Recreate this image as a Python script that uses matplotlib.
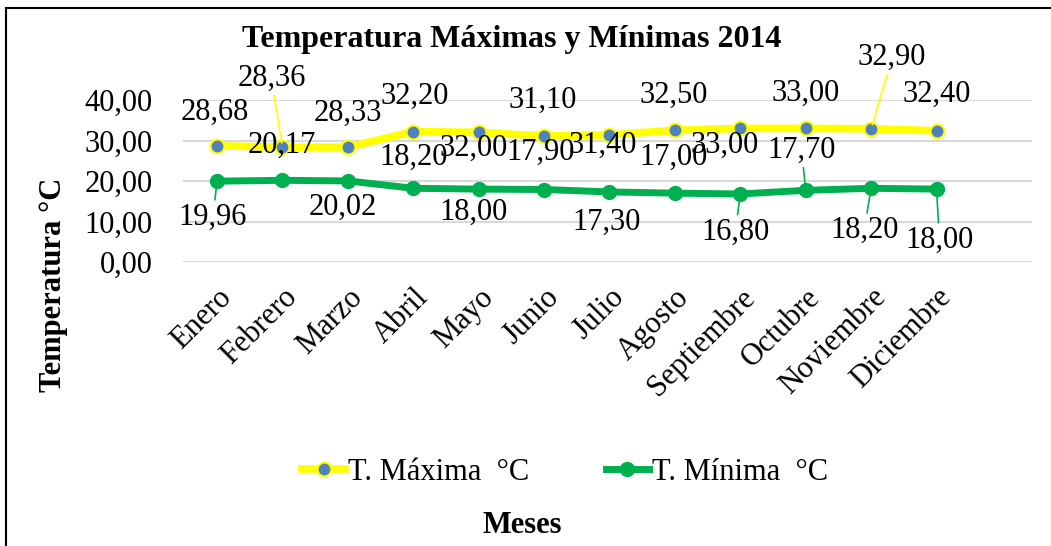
import matplotlib
matplotlib.use("Agg")
import matplotlib.pyplot as plt
from matplotlib.lines import Line2D
from matplotlib.ticker import FuncFormatter, MultipleLocator

plt.rcParams["font.family"] = ["Liberation Serif", "DejaVu Serif"]

# ---------------------------------------------------------------------------
# Data
# ---------------------------------------------------------------------------
meses = ["Enero", "Febrero", "Marzo", "Abril", "Mayo", "Junio", "Julio",
         "Agosto", "Septiembre", "Octubre", "Noviembre", "Diciembre"]
t_maxima = [28.68, 28.36, 28.33, 32.20, 32.00, 31.10, 31.40, 32.50,
            33.00, 33.00, 32.90, 32.40]
t_minima = [19.96, 20.17, 20.02, 18.20, 18.00, 17.90, 17.30, 17.00,
            16.80, 17.70, 18.20, 18.00]

# label offsets (pixels) and whether a leader line is drawn
max_offsets = [(-2, 34), (-11, 69), (0, 34), (1, 35), (-5, -16), (-1, 36),
               (-7, -10), (-1, 35), (-16, -17), (0, 35), (21, 71), (0, 36)]
max_leader = [False, True, False, False, False, False,
              False, False, False, False, True, False]
min_offsets = [(-4, -36), (-1, 35), (-5, -26), (0, 31), (-5, -23), (-3, 37),
               (-3, -30), (-1, 36), (-5, -38), (-4, 40), (-7, -42), (3, -51)]
min_leader = [True, False, False, False, False, False,
              False, False, True, True, True, True]

YELLOW = "#FFFF00"
BLUE = "#4F81BD"
GREEN = "#00B050"
GRID = "#D9D9D9"

W, H = 1051, 546
FS = 22


def fmt(v):
    return f"{v:.2f}".replace(".", ",")


fig = plt.figure(figsize=(W / 100, H / 100), dpi=100)
ax = fig.add_axes([183 / W, (H - 262) / H, (1032 - 183) / W, 162 / H])

x = list(range(len(meses)))
ax.plot(x, t_maxima, color=YELLOW, lw=5.5, marker="o", ms=10,
        markerfacecolor=BLUE, markeredgecolor=YELLOW, markeredgewidth=1.5,
        label="T. Máxima  °C", zorder=3)
ax.plot(x, t_minima, color=GREEN, lw=5, marker="o", ms=10,
        markerfacecolor=GREEN, markeredgecolor=GREEN,
        label="T. Mínima  °C", zorder=3)

for xi, v, off, lead in zip(x, t_maxima, max_offsets, max_leader):
    ax.annotate(fmt(v), (xi, v), xytext=off, textcoords="offset pixels",
                ha="center", va="center", fontsize=FS, zorder=4,
                arrowprops=dict(arrowstyle="-", color=YELLOW, lw=1.2,
                                shrinkA=0, shrinkB=3) if lead else None)
for xi, v, off, lead in zip(x, t_minima, min_offsets, min_leader):
    ax.annotate(fmt(v), (xi, v), xytext=off, textcoords="offset pixels",
                ha="center", va="center", fontsize=FS, zorder=4,
                arrowprops=dict(arrowstyle="-", color=GREEN, lw=1.2,
                                shrinkA=0, shrinkB=3) if lead else None)

ax.set_ylim(0, 40)
ax.set_xlim(-0.52, 12.46)
ax.yaxis.set_major_locator(MultipleLocator(10))
ax.yaxis.set_major_formatter(FuncFormatter(lambda v, p: fmt(v)))
ax.set_xticks(x)
ax.set_xticklabels(meses, rotation=45, ha="right", rotation_mode="anchor",
                   fontsize=FS)
ax.tick_params(axis="both", length=0)
ax.tick_params(axis="y", pad=22, labelsize=FS)
ax.tick_params(axis="x", pad=15)
ax.grid(axis="y", color=GRID, lw=1.5)
ax.set_axisbelow(True)
for s in ax.spines.values():
    s.set_visible(False)

fig.text(512 / W, 1 - 47 / H, "Temperatura Máximas y Mínimas 2014",
         ha="center", va="baseline", fontsize=23, fontweight="bold")
fig.text(54 / W, 1 - 285 / H, "Temperatura °C", rotation=90,
         ha="center", va="center", fontsize=22, fontweight="bold")
fig.text(522 / W, 1 - 533 / H, "Meses", ha="center", va="baseline",
         fontsize=22, fontweight="bold")

fig.legend(loc="center", bbox_to_anchor=(565 / W, 1 - 472 / H), ncol=2,
           frameon=False, fontsize=22, handlelength=1.4, handletextpad=0.1,
           columnspacing=2.5)

# chart frame (top and left edges visible in the crop)
fig.add_artist(Line2D([6 / W, 1], [1 - 8 / H, 1 - 8 / H], color="black",
                      lw=1.5, transform=fig.transFigure))
fig.add_artist(Line2D([6 / W, 6 / W], [0, 1 - 8 / H], color="black",
                      lw=1.5, transform=fig.transFigure))

fig.savefig("out.png", dpi=100)
